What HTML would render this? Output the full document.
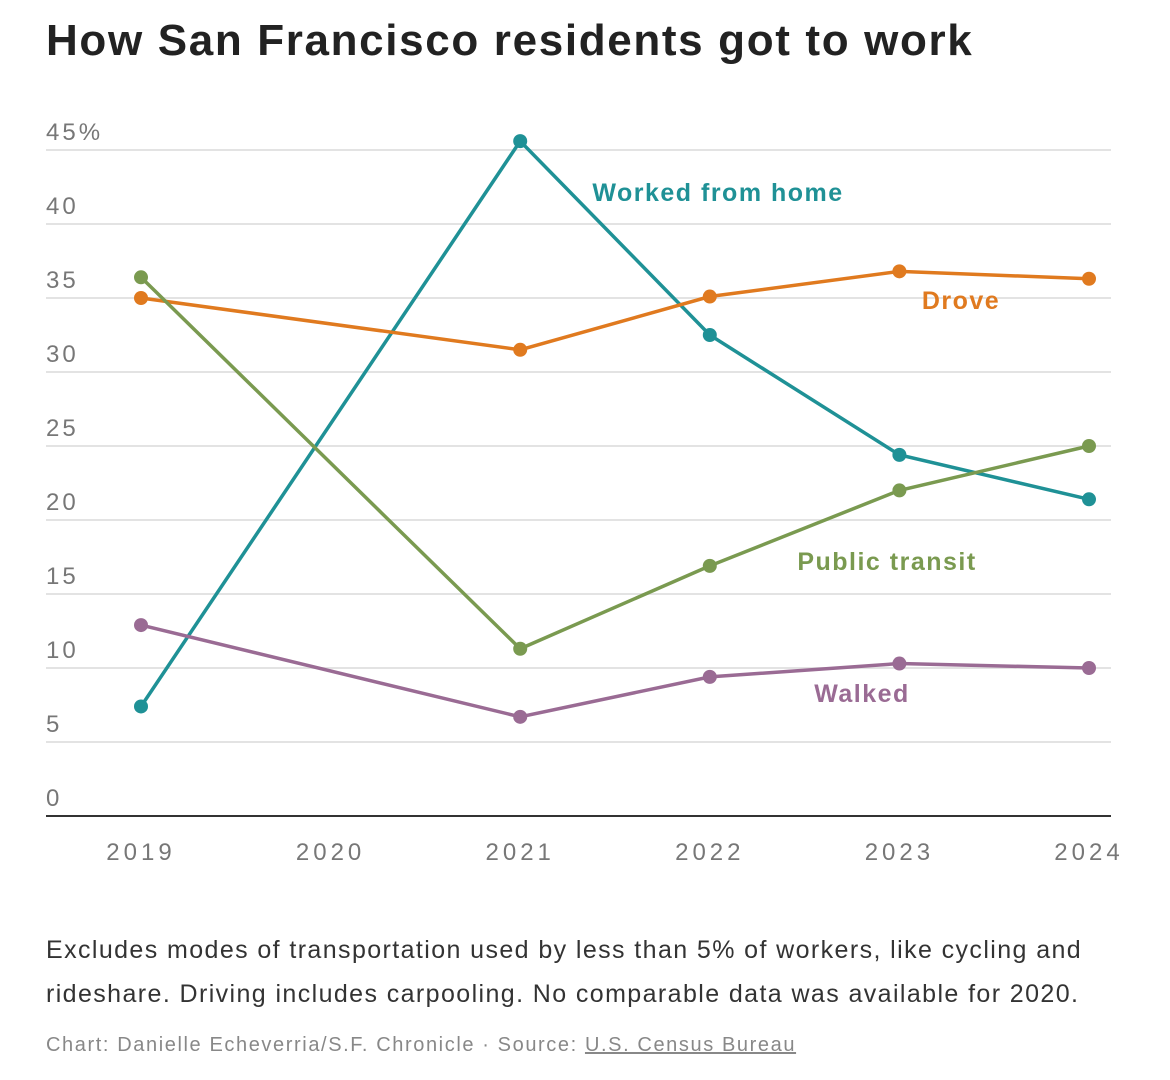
<!DOCTYPE html>
<html><head><meta charset="utf-8">
<style>
body{margin:0;background:#fff;width:1170px;height:1080px;overflow:hidden;font-family:"Liberation Sans",sans-serif;}
h1{position:absolute;left:46px;top:16px;margin:0;font-size:44px;font-weight:bold;color:#222;letter-spacing:1.65px}
.note{position:absolute;left:46px;top:928px;font-size:25px;line-height:44px;color:#333;width:1120px;letter-spacing:1.4px;white-space:nowrap}
.credit{position:absolute;left:46px;top:1034px;font-size:20px;color:#888;letter-spacing:1.6px}
.credit u{color:#888}
svg{position:absolute;left:0;top:0}
</style></head><body>
<h1>How San Francisco residents got to work</h1>
<svg id="chart" width="1170" height="900"></svg>
<div class="note">Excludes modes of transportation used by less than 5% of workers, like cycling and<br>rideshare. Driving includes carpooling. No comparable data was available for 2020.</div>
<div class="credit">Chart: Danielle Echeverria/S.F. Chronicle · Source: <u>U.S. Census Bureau</u></div>
<script>
const years=[2019,2020,2021,2022,2023,2024];
const dataYears=[2019,2021,2022,2023,2024];
const wfh=[7.4,45.6,32.5,24.4,21.4];
const drove=[35.0,31.5,35.1,36.8,36.3];
const transit=[36.4,11.3,16.9,22.0,25.0];
const walked=[12.9,6.7,9.4,10.3,10.0];
const yTicks=[0,5,10,15,20,25,30,35,40,45];
const yTickLabels=["0","5","10","15","20","25","30","35","40","45%"];
const seriesNames=["Worked from home","Drove","Public transit","Walked"];

const svg=document.getElementById('chart');
const NS='http://www.w3.org/2000/svg';
const x=v=>141+(v-2019)*189.6;
const y=v=>816-v*14.8;
function mk(t,a){const e=document.createElementNS(NS,t);for(const k in a)e.setAttribute(k,a[k]);svg.appendChild(e);return e;}
yTicks.forEach((t,i)=>{
  if(t>0){const g=mk('line',{x1:46,x2:1111,y1:y(t),y2:y(t),stroke:'#e3e3e3','stroke-width':2});
  
  }
  const l=mk('text',{x:46,y:y(t)-10,'font-size':24,fill:'#777','letter-spacing':'3'});
  l.textContent=yTickLabels[i];
  
  
});
const base=mk('line',{x1:46,x2:1111,y1:y(0),y2:y(0),stroke:'#333','stroke-width':2});


years.forEach(yr=>{
  const t=mk('text',{x:x(yr),y:860,'font-size':24,fill:'#777','text-anchor':'middle','letter-spacing':'4'});
  t.textContent=yr;
  
  
});
const series=[[wfh,'#1f9196','worked-from-home',718,201],[drove,'#e07a1f','drove',961,309],[transit,'#7a9a50','public-transit',887,570],[walked,'#9a6b94','walked',862,702]];
series.forEach((s,si)=>{
  const [vals,col,name,lx,ly]=s;
  const p=mk('polyline',{points:vals.map((v,i)=>x(dataYears[i])+','+y(v)).join(' '),fill:'none',stroke:col,'stroke-width':3.5});
  
  
  vals.forEach((v,i)=>{
    const c=mk('circle',{cx:x(dataYears[i]),cy:y(v),r:7,fill:col});
    
    
  });
  const t=mk('text',{x:lx,y:ly,'font-size':25,'font-weight':'bold',fill:col,'text-anchor':'middle','letter-spacing':'1.5'});
  t.textContent=seriesNames[si];
  
  
});
</script>
</body></html>
